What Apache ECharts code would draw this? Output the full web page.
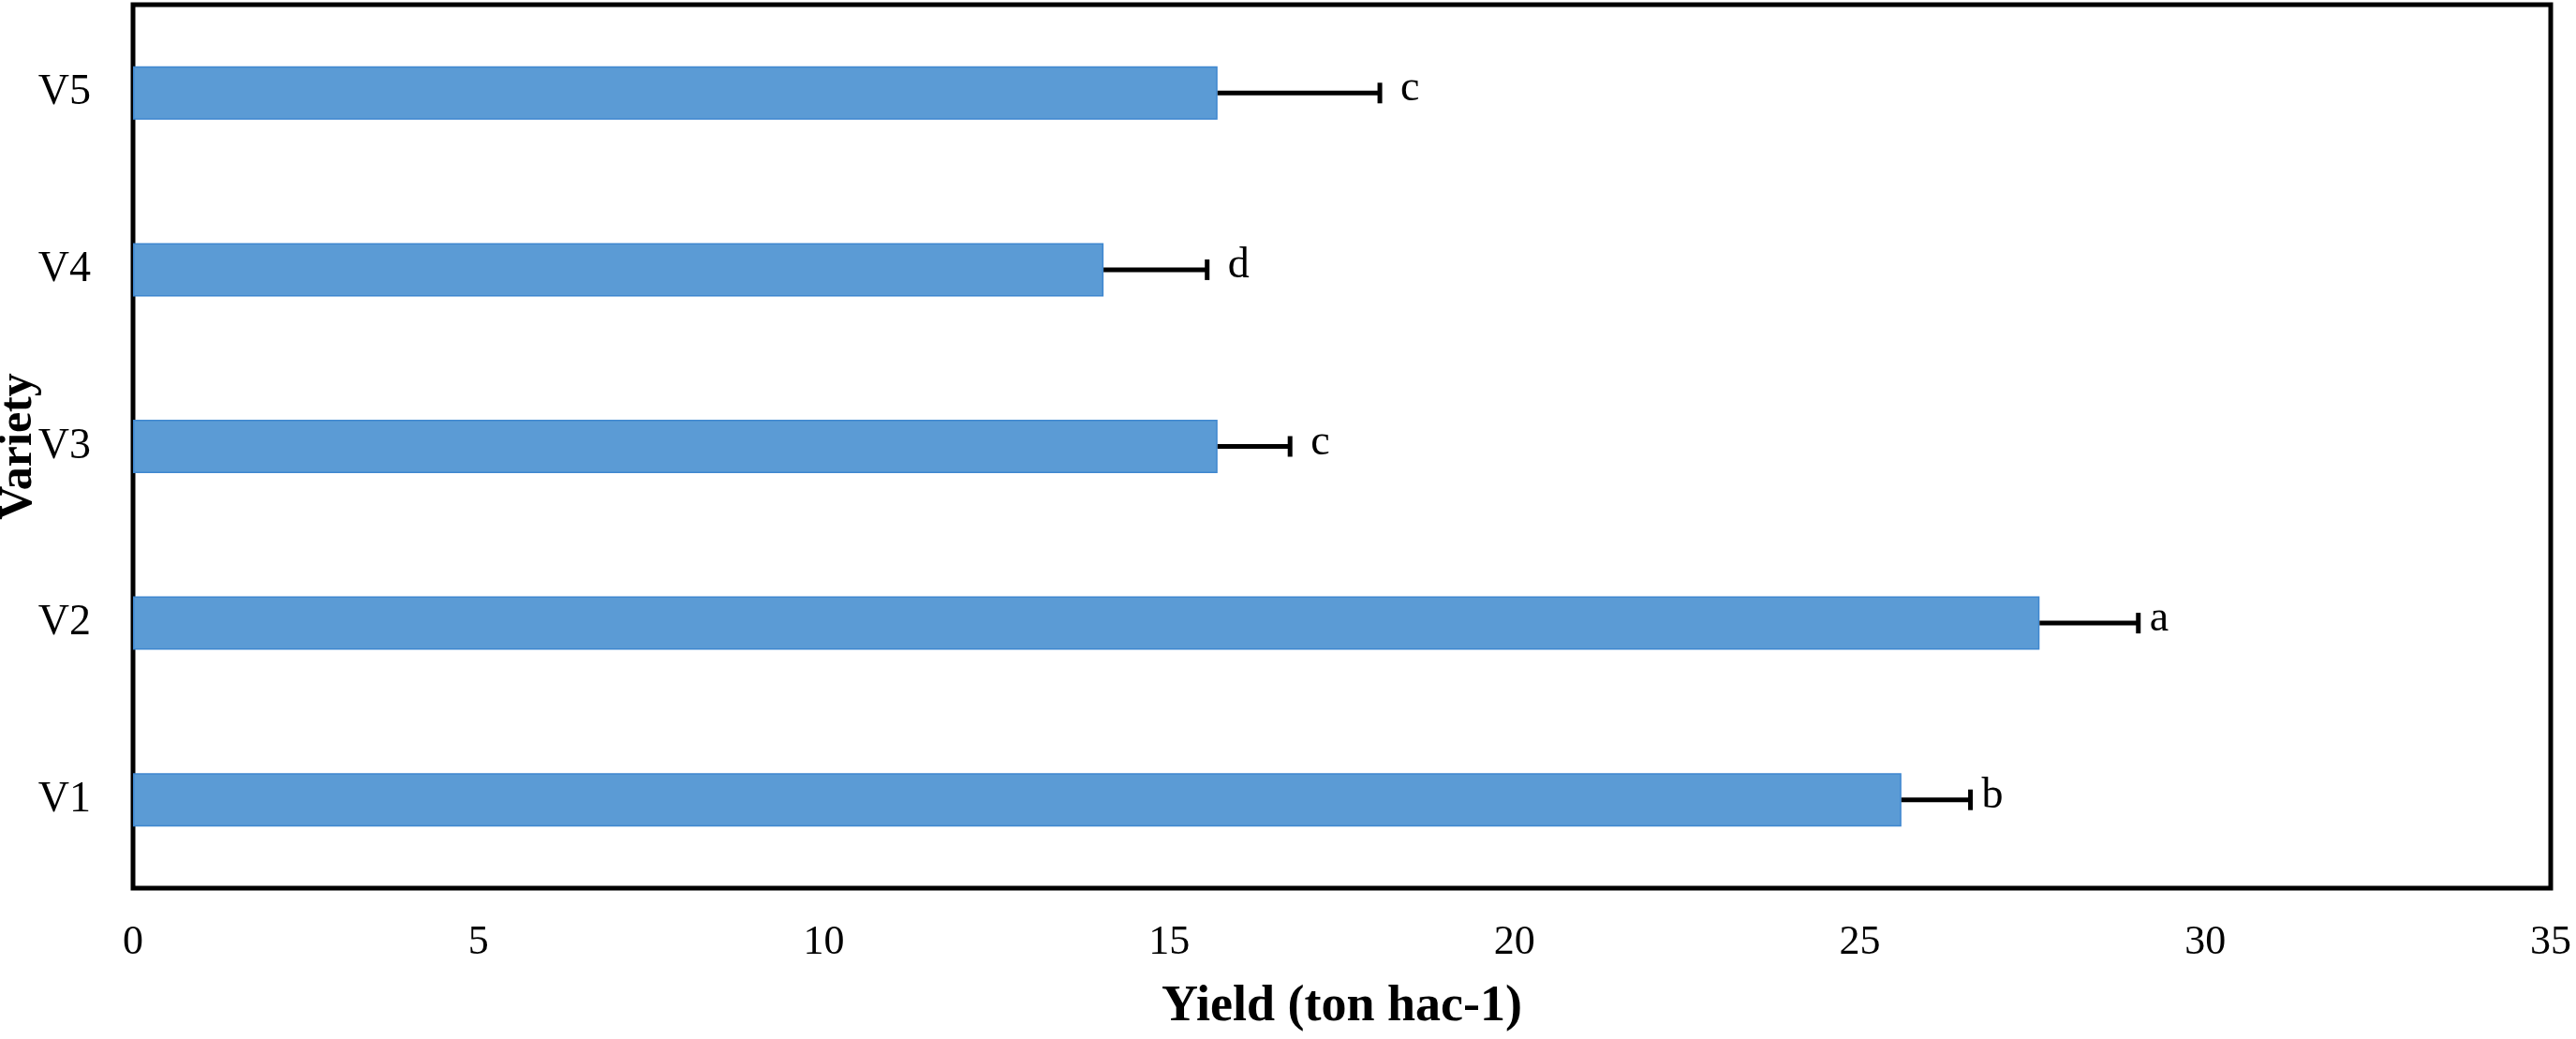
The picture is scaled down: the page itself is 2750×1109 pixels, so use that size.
<!DOCTYPE html>
<html>
<head>
<meta charset="utf-8">
<script src="https://cdn.jsdelivr.net/npm/echarts@6/dist/echarts.min.js"></script>
<style>html,body{margin:0;padding:0;background:#fff}#c{width:2750px;height:1109px}</style>
</head>
<body>
<div id="c"></div>
<script>
const categories = ['V1', 'V2', 'V3', 'V4', 'V5'];
const yieldValues = [25.6, 27.6, 15.7, 14.05, 15.7];
const errorValues = [1.0, 1.43, 1.05, 1.5, 2.35];
const letters = ['b', 'a', 'c', 'd', 'c'];
const xTicks = [0, 5, 10, 15, 20, 25, 30, 35];

const FONT = '"Liberation Serif", "Times New Roman", serif';
const chart = echarts.init(document.getElementById('c'));

const errData = categories.map((c, i) => [yieldValues[i], i, errorValues[i], letters[i]]);

chart.setOption({
  animation: false,
  backgroundColor: '#fff',
  grid: {
    left: 142, right: 27, top: 5, bottom: 161,
    containLabel: false, outerBoundsMode: 'none',
    show: true, borderColor: '#000', borderWidth: 5, backgroundColor: 'transparent'
  },
  xAxis: {
    type: 'value', min: xTicks[0], max: xTicks[xTicks.length - 1], interval: 5,
    axisLine: { show: false }, axisTick: { show: false }, splitLine: { show: false },
    axisLabel: { color: '#000', fontFamily: FONT, fontSize: 44, margin: 36 },
    name: 'Yield (ton hac-1)', nameLocation: 'middle', nameGap: 100, nameMoveOverlap: false,
    nameTextStyle: { color: '#000', fontFamily: FONT, fontSize: 54, fontWeight: 'bold', padding: [0, 0, 0, 0] }
  },
  yAxis: {
    type: 'category', data: categories,
    axisLine: { show: false }, axisTick: { show: false }, splitLine: { show: false },
    axisLabel: { color: '#000', fontFamily: FONT, fontSize: 46, margin: 45 },
    name: 'Variety', nameLocation: 'middle', nameGap: 97, nameRotate: 90, nameMoveOverlap: false,
    nameTextStyle: { color: '#000', fontFamily: FONT, fontSize: 50, fontWeight: 'bold' }
  },
  series: [
    {
      type: 'bar', data: yieldValues, barWidth: 57,
      itemStyle: { color: '#5B9BD5', borderColor: '#3F87CF', borderWidth: 1.5 }
    },
    {
      type: 'custom', data: errData, z: 5,
      renderItem: function (params, api) {
        const v = api.value(0), idx = api.value(1), e = api.value(2);
        const letter = errData[params.dataIndex][3];
        const p0 = api.coord([v, idx]);
        const p1 = api.coord([v + e, idx]);
        const gap = idx <= 1 ? 12 : 22;
        return {
          type: 'group',
          children: [
            { type: 'line', shape: { x1: p0[0], y1: p0[1], x2: p1[0], y2: p1[1] },
              style: { stroke: '#000', lineWidth: 5 } },
            { type: 'line', shape: { x1: p1[0], y1: p1[1] - 11, x2: p1[0], y2: p1[1] + 11 },
              style: { stroke: '#000', lineWidth: 5 } },
            { type: 'text', x: p1[0] + gap, y: p1[1] - 4,
              style: { text: letter, fill: '#000', font: '46px ' + FONT, align: 'left', verticalAlign: 'middle' } }
          ]
        };
      }
    }
  ]
});
</script>
</body>
</html>
